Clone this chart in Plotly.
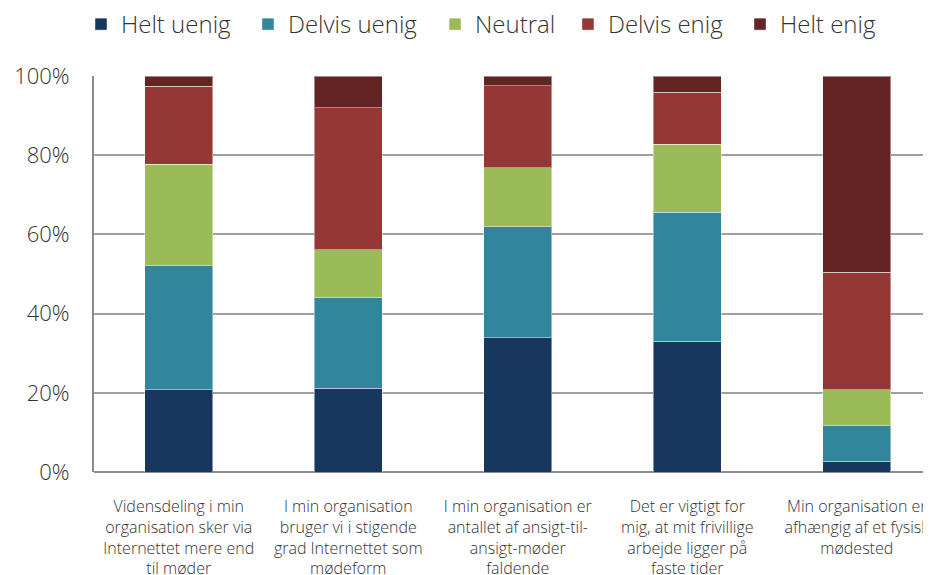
import plotly.graph_objects as go

categories = [
    "Vidensdeling i min<br>organisation sker via<br>Internettet mere end<br>til møder",
    "I min organisation<br>bruger vi i stigende<br>grad Internettet som<br>mødeform",
    "I min organisation er<br>antallet af ansigt-til-<br>ansigt-møder<br>faldende",
    "Det er vigtigt for<br>mig, at mit frivillige<br>arbejde ligger på<br>faste tider",
    "Min organisation er<br>afhængig af et fysisk<br>mødested",
]
series_names = ["Helt uenig", "Delvis uenig", "Neutral", "Delvis enig", "Helt enig"]
helt_uenig = [20.8, 21.2, 33.9, 33.0, 2.7]
delvis_uenig = [31.3, 22.8, 28.0, 32.6, 9.0]
neutral = [25.6, 12.1, 14.9, 17.2, 9.1]
delvis_enig = [19.7, 35.9, 20.7, 13.1, 29.7]
helt_enig = [2.6, 8.0, 2.5, 4.1, 49.5]
colors = ["#17375E", "#31859C", "#9BBB59", "#953735", "#632523"]
y_ticks = [0, 20, 40, 60, 80, 100]
y_ticktext = ["0%", "20%", "40%", "60%", "80%", "100%"]
legend_x = [-0.0154, 0.1822, 0.4036, 0.5609, 0.7645]

FONT = "Open Sans"
fig = go.Figure()
legend_ids = ["legend"] + [f"legend{i+1}" for i in range(1, len(series_names))]
for name, vals, col, lid in zip(series_names, [helt_uenig, delvis_uenig, neutral, delvis_enig, helt_enig], colors, legend_ids):
    fig.add_trace(go.Bar(
        name=name, x=list(range(len(categories))), y=vals,
        marker=dict(color=col, line=dict(color="rgba(255,255,255,0.45)", width=1)),
        width=0.4, legend=lid,
    ))

legend_style = dict(orientation="h", xanchor="left", y=1.130, yref="paper", yanchor="middle",
                    font=dict(size=24, family=FONT, weight=300, color="#333333"),
                    itemwidth=30, bgcolor="rgba(0,0,0,0)")
legends = {}
for lid, lx in zip(legend_ids, legend_x):
    legends[lid] = dict(legend_style, x=lx)

fig.update_layout(
    barmode="stack",
    width=931, height=575,
    margin=dict(l=86, r=0, t=68, b=111, autoexpand=False),
    paper_bgcolor="white", plot_bgcolor="white",
    font=dict(family=FONT, color="#333333", weight=300),
    showlegend=True,
    xaxis=dict(
        tickmode="array", tickvals=list(range(len(categories))), ticktext=categories,
        range=[-0.5, 4.485], showgrid=False, zeroline=False, showline=False,
        ticks="", tickfont=dict(size=16, family=FONT, weight=300, color="#333333"),
        ticklabelstandoff=23, automargin=False,
    ),
    yaxis=dict(
        range=[0, 100], tickmode="array", tickvals=y_ticks, ticktext=y_ticktext,
        showgrid=True, gridcolor="#A0A0A0", gridwidth=1.5,
        showline=True, linecolor="#8C8C8C", linewidth=2,
        zeroline=True, zerolinecolor="#8C8C8C", zerolinewidth=2,
        ticks="", tickfont=dict(size=22, family=FONT, weight=300, color="#333333"),
        ticklabelstandoff=18, automargin=False,
    ),
    **legends,
)
fig.write_html("out.html")
